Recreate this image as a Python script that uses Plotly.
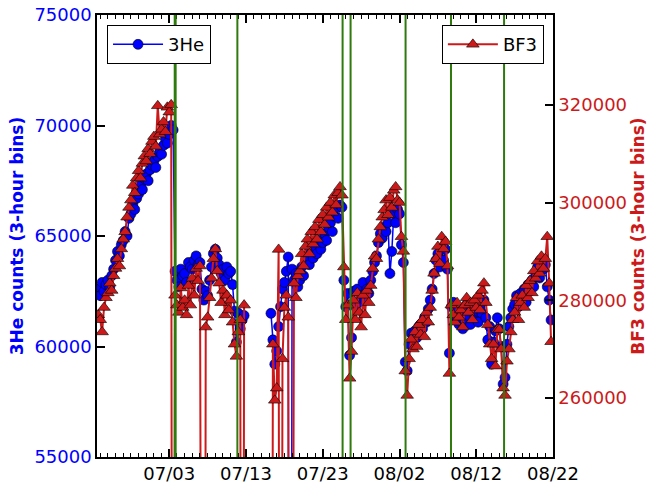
import pandas as pd
import plotly.graph_objects as go

# ---- data: 6-hour bins starting 2014-06-23 18:00 ----
start_time = "2014-06-23 18:00"
he3 = [
    62600,
    62300, 62900, 62500, 62800,   # 06/24
    63000, 62700, 63200, 63500,   # 06/25
    63900, 64300, 64100, 64600,   # 06/26
    64800, 65200, 65000, 65800,   # 06/27
    66000, 66400, 66200, 66700,   # 06/28
    66900, 67300, 67100, 67600,   # 06/29
    67800, 67500, 68000, 68200,   # 06/30
    68400, 68100, 68600, 68800,   # 07/01
    68700, 69100, 69400, 69200,   # 07/02
    69600, 70000, 69800, 63400,   # 07/03
    63000, 62700, 63500, 63200,   # 07/04
    63300, 62900, 63800, 63600,   # 07/05
    63500, 63900, 64100, 63700,   # 07/06
    63800, 62600, 62100, 62500,   # 07/07
    62300, 63000, 63600, 64200,   # 07/08
    64400, 64000, 63700, 63300,   # 07/09
    63500, 63000, 63600, 63300,   # 07/10
    63400, 62800, 61600, 60200,   # 07/11
    61500, 60800, 61200, 61400,   # 07/12
    None, None, None, None,       # 07/13
    None, None, None, None,       # 07/14
    None, None, None, None,       # 07/15
    None, 61500, 60300, 59200,    # 07/16
    59800, 60900, 61800, 62600,   # 07/17
    62900, 63400, 64050, 0,       # 07/18
    63500, 63000, 63300, 62700,   # 07/19
    63000, 63600, 63200, 63900,   # 07/20
    64100, 63700, 64300, 64000,   # 07/21
    64500, 64200, 64800, 64400,   # 07/22
    64700, 65100, 64800, 65400,   # 07/23
    65600, 65200, 65900, 66300,   # 07/24
    65800, 66400, 66300, 63000,   # 07/25
    61800, 62400, 59600, 60400,   # 07/26
    62500, 61800, 62600, 62000,   # 07/27
    62300, 62900, 62100, 62600,   # 07/28
    62400, 63000, 63400, 63800,   # 07/29
    64100, 64700, 65100, 64900,   # 07/30
    65400, 65200, 65600, 63300,   # 07/31
    64300, 66000, 65600, 66200,   # 08/01
    66000, 64600, 63800, 59300,   # 08/02
    58900, 60100, 60600, 60300,   # 08/03
    60700, 60400, 60900, 61000,   # 08/04
    60800, 61300, 61100, 61700,   # 08/05
    62100, 62600, 63300, 63900,   # 08/06
    64200, 63600, 64400, 63900,   # 08/07
    64400, 63500, 59700, 61800,   # 08/08
    62000, 61300, 61600, 61000,   # 08/09
    61500, 60800, 61200, 61900,   # 08/10
    61400, 61000, 61700, 61300,   # 08/11
    61600, 61100, 61900, 61500,   # 08/12
    62100, 61300, 60300, 60900,   # 08/13
    59200, 60200, 60700, 61300,   # 08/14
    60800, 60000, 58300, 58600,   # 08/15
    60100, 60900, 61300, 61700,   # 08/16
    61900, 62300, 61800, 62400,   # 08/17
    62200, 62600, 62000, 62800,   # 08/18
    62500, 63000, 62700, 63300,   # 08/19
    63600, 63100, 63800, 63500,   # 08/20
    63700, 62700, 62100, 61200,   # 08/21
]
bf3 = [
    277000,
    276000, 273500, 278500, 280500,   # 06/24
    281500, 283500, 282000, 285000,   # 06/25
    286500, 288500, 287000, 290500,   # 06/26
    292500, 294000, 297000, 299000,   # 06/27
    300500, 303500, 302000, 305000,   # 06/28
    306500, 305000, 308000, 309500,   # 06/29
    308500, 311000, 310000, 312500,   # 06/30
    313500, 311500, 319800, 314000,   # 07/01
    315000, 316500, 314500, 319500,   # 07/02
    318500, 320000, 0, 281000,        # 07/03
    279000, 277500, 282500, 278500,   # 07/04
    280000, 277000, 283000, 279000,   # 07/05
    284500, 281000, 286500, 284000,   # 07/06
    287000, 0, 0, 274500,             # 07/07
    276500, 280500, 284500, 288500,   # 07/08
    290500, 286000, 283500, 279500,   # 07/09
    282000, 277000, 281000, 278000,   # 07/10
    280000, 275500, 271000, 268500,   # 07/11
    273500, 276000, 0, 279000,        # 07/12
    None, None, None, None,           # 07/13
    None, None, None, None,           # 07/14
    None, None, None, None,           # 07/15
    None, 0, 271000, 259500,          # 07/16
    262000, 290400, 0, 268000,        # 07/17
    278500, 281000, 276500, 0,        # 07/18
    0, 283500, 280500, 285000,        # 07/19
    286000, 289500, 287000, 291000,   # 07/20
    292500, 289500, 294000, 291500,   # 07/21
    295000, 292500, 296500, 294000,   # 07/22
    297500, 295500, 299000, 297000,   # 07/23
    300000, 298000, 301500, 299500,   # 07/24
    302000, 303200, 301500, 286800,   # 07/25
    276000, 279000, 264000, 269500,   # 07/26
    280000, 276000, 281500, 277500,   # 07/27
    274500, 281000, 277000, 282000,   # 07/28
    279500, 283000, 286500, 289000,   # 07/29
    288500, 292500, 295000, 297000,   # 07/30
    298500, 300500, 297500, 301000,   # 07/31
    299000, 302500, 303200, 300500,   # 08/01
    300000, 293000, 290000, 265500,   # 08/02
    260500, 268000, 272000, 270000,   # 08/03
    273500, 270500, 275000, 273000,   # 08/04
    276000, 272500, 277500, 275500,   # 08/05
    278500, 282000, 285500, 288500,   # 08/06
    291000, 287500, 293000, 290500,   # 08/07
    292000, 287000, 265000, 279000,   # 08/08
    277000, 275500, 279500, 276500,   # 08/09
    278000, 274500, 279000, 280500,   # 08/10
    277500, 279500, 276000, 280000,   # 08/11
    278500, 281000, 278000, 282000,   # 08/12
    283500, 279500, 275000, 271000,   # 08/13
    268000, 271000, 266500, 274000,   # 08/14
    274000, 270000, 262000, 260500,   # 08/15
    267500, 270000, 273500, 276000,   # 08/16
    277500, 280500, 276000, 279500,   # 08/17
    281000, 278500, 283000, 280500,   # 08/18
    284000, 281500, 286000, 284500,   # 08/19
    288000, 285500, 289000, 286500,   # 08/20
    288500, 293000, 283500, 271500,   # 08/21
]
event_times = ["2014-07-03 17:00", "2014-07-03 20:00", "2014-07-11 21:00",
               "2014-07-25 14:00", "2014-07-26 15:00", "2014-08-02 19:00",
               "2014-08-08 17:00", "2014-08-15 15:00"]
x_ticks = ["2014-07-03", "2014-07-13", "2014-07-23", "2014-08-02", "2014-08-12", "2014-08-22"]
y_left_ticks = [55000, 60000, 65000, 70000, 75000]
y_right_ticks = [260000, 280000, 300000, 320000]

times = pd.date_range(start_time, periods=len(he3), freq="6h")

BLUE = "#0000ff"
RED = "#cc1a1a"
GREEN = "#2f7a0c"
FONT = "DejaVu Sans"

fig = go.Figure()
fig.add_trace(go.Scatter(
    x=times, y=he3, name="3He", mode="lines+markers", yaxis="y",
    line=dict(color=BLUE, width=1.5),
    marker=dict(symbol="circle", size=10, color=BLUE, line=dict(color="black", width=0.6)),
    legend="legend", connectgaps=False, showlegend=True,
))
fig.add_trace(go.Scatter(
    x=times, y=bf3, name="BF3", mode="lines+markers", yaxis="y2",
    line=dict(color=RED, width=2),
    marker=dict(symbol="triangle-up", size=11, color=RED, line=dict(color="black", width=0.6)),
    legend="legend2", connectgaps=False, showlegend=True,
))

for t in event_times:
    fig.add_shape(type="line", xref="x", yref="paper", x0=t, x1=t, y0=0, y1=1,
                  line=dict(color=GREEN, width=2), layer="above")

fig.update_layout(
    width=651, height=483,
    margin=dict(l=97, r=98, t=15, b=26),
    paper_bgcolor="white", plot_bgcolor="white",
    font=dict(family=FONT, size=18, color="black"),
    showlegend=True,
    xaxis=dict(
        range=["2014-06-23 14:00", "2014-08-22 00:00"],
        tickvals=x_ticks, tickformat="%m/%d",
        ticks="inside", ticklen=8, tickwidth=1.5, tickcolor="black",
        showline=True, linecolor="black", linewidth=1.5, mirror="ticks",
        showgrid=False, zeroline=False,
        minor=dict(ticks="inside", ticklen=4, tickwidth=1, tickcolor="black",
                   dtick=86400000, tick0="2014-06-23", showgrid=False),
        tickfont=dict(family=FONT, size=18, color="black"),
        automargin=False,
    ),
    yaxis=dict(
        range=[55000, 75000], tickvals=y_left_ticks, tickformat="d",
        ticks="inside", ticklen=8, tickwidth=1.5, tickcolor="black",
        showline=True, linecolor="black", linewidth=1.5,
        showgrid=False, zeroline=False,
        tickfont=dict(family=FONT, size=18, color=BLUE),
        title=dict(text="3He counts (3-hour bins)", standoff=6,
                   font=dict(family=FONT, size=17, color=BLUE, weight="bold")),
        automargin=False,
    ),
    yaxis2=dict(
        range=[247900, 338400], tickvals=y_right_ticks, tickformat="d",
        overlaying="y", side="right",
        ticks="inside", ticklen=8, tickwidth=1.5, tickcolor="black",
        showline=True, linecolor="black", linewidth=1.5,
        showgrid=False, zeroline=False,
        tickfont=dict(family=FONT, size=18, color=RED),
        title=dict(text="BF3 counts (3-hour bins)", standoff=6,
                   font=dict(family=FONT, size=17, color=RED, weight="bold")),
        automargin=False,
    ),
    legend=dict(x=0.022, y=0.977, xanchor="left", yanchor="top",
                bgcolor="white", bordercolor="black", borderwidth=1,
                itemwidth=50, font=dict(family=FONT, size=18)),
    legend2=dict(x=0.98, y=0.977, xanchor="right", yanchor="top",
                 bgcolor="white", bordercolor="black", borderwidth=1,
                 itemwidth=50, font=dict(family=FONT, size=18)),
)

fig.write_html("out.html")
